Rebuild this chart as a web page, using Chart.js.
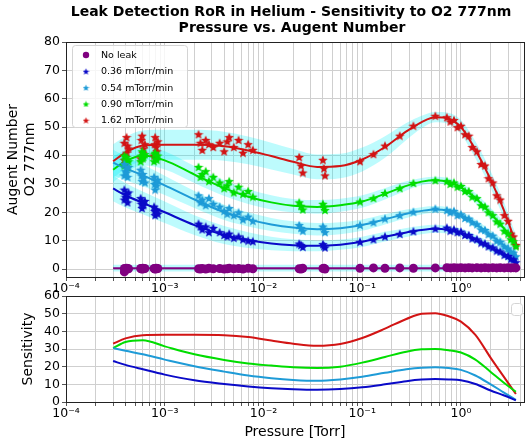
<!DOCTYPE html>
<html>
<head>
<meta charset="utf-8">
<script src="https://cdn.jsdelivr.net/npm/chart.js@4.4.1/dist/chart.umd.min.js"></script>
<style>
  body { margin: 0; background: #fff; }
  #wrap { position: relative; width: 531px; height: 443px; overflow: hidden; }
  canvas { position: absolute; left: 0; }
</style>
</head>
<body>
<div id="wrap">
  <canvas id="topChart" width="531" height="300" style="top:0"></canvas>
  <canvas id="botChart" width="531" height="160" style="top:283px"></canvas>
</div>
<script>
// ---- data ----
const seriesLabels = ['No leak', '0.36 mTorr/min', '0.54 mTorr/min', '0.90 mTorr/min', '1.62 mTorr/min'];
const seriesColors = ['#800080', '#0a0ac8', '#1e9bd7', '#00dd00', '#d21414'];

// pressures of the fitted curves [Torr]
const fitP = [3e-4, 4e-4, 6e-4, 1e-3, 2e-3, 4e-3, 7e-3, 1.2e-2, 2e-2, 3.5e-2, 6e-2, 0.1, 0.17, 0.28, 0.4, 0.55, 0.75, 1.0, 1.4, 2.0, 2.7, 3.6];

const fitNoLeak    = [0.3, 0.3, 0.3, 0.3, 0.3, 0.3, 0.3, 0.3, 0.3, 0.3, 0.3, 0.3, 0.3, 0.3, 0.3, 0.3, 0.3, 0.3, 0.3, 0.3, 0.3, 0.3];
const fitBlue      = [28.4, 26, 23.3, 20, 15.5, 12.0, 10.2, 9.0, 8.4, 8.2, 8.6, 9.6, 11.4, 12.9, 13.8, 14.2, 13.8, 12.8, 10.5, 7.7, 5.5, 2.6];
const fitLightBlue = [37.5, 35.5, 33, 29.5, 24.5, 20, 17.5, 15.7, 14.6, 14.0, 14.4, 15.5, 17.5, 19.5, 20.5, 21, 20.5, 19, 16, 12, 8.5, 4.8];
const fitGreen     = [35, 38, 40, 38.3, 33.3, 28.5, 25.5, 23.5, 22.3, 21.9, 22.5, 23.8, 26.5, 29.3, 30.8, 31.3, 30.7, 28.8, 25, 19.5, 14.5, 8.5];
const fitRed       = [38, 41, 43.5, 43.8, 43.8, 43.3, 41.8, 39.8, 37.8, 36.0, 36.3, 38.6, 43, 48.5, 51.8, 53.5, 53, 50, 42, 31.5, 21, 9];

// half widths of the cyan confidence bands
const bandNoLeak    = [1.2, 1.2, 1.2, 1.2, 1.2, 1.2, 1.2, 1.2, 1.2, 1.2, 1.2, 1.2, 1.2, 1.2, 1.2, 1.2, 1.2, 1.2, 1.2, 1.2, 1.2, 1.2];
const bandBlue      = [4.5, 4.3, 4, 3.8, 3.5, 3.2, 2.8, 2.4, 2.1, 1.9, 1.8, 1.8, 1.7, 1.6, 1.5, 1.4, 1.4, 1.5, 1.6, 1.7, 1.8, 2];
const bandLightBlue = [4.5, 4.2, 3.8, 3.4, 3, 2.7, 2.5, 2.3, 2.2, 2.2, 2.1, 2, 1.8, 1.5, 1.3, 1.2, 1.2, 1.3, 1.5, 1.6, 1.8, 2];
const bandGreen     = [4.5, 4, 3.5, 3.2, 3, 2.8, 2.6, 2.5, 2.4, 2.4, 2.3, 2.2, 2, 1.6, 1.3, 1.2, 1.3, 1.5, 1.8, 2, 2.2, 2.5];
const bandRed       = [6, 5.6, 5.3, 5.3, 5.3, 5.1, 4.9, 4.7, 4.5, 4.4, 4.3, 4.2, 3.8, 3, 2.2, 1.8, 2, 2.5, 3, 3, 3, 3];

// measured points
const ptP = [3.9e-4, 3.9e-4, 4.0e-4, 4.1e-4, 4.1e-4, 4.2e-4, 4.3e-4,
  5.7e-4, 5.8e-4, 5.9e-4, 6.0e-4, 6.1e-4, 6.3e-4,
  7.8e-4, 7.9e-4, 8.0e-4, 8.2e-4, 8.3e-4, 8.5e-4,
  2.2e-3, 2.3e-3, 2.4e-3, 2.6e-3, 2.8e-3, 3.1e-3,
  3.6e-3, 4.0e-3, 4.3e-3, 4.5e-3, 5.0e-3, 5.6e-3, 6.2e-3, 7.0e-3, 7.8e-3,
  2.3e-2, 2.5e-2, 2.4e-2,
  4.0e-2, 4.2e-2, 4.1e-2,
  0.095, 0.13, 0.17, 0.24, 0.33, 0.55,
  0.72, 0.78, 0.85, 0.92, 1.0, 1.1, 1.2, 1.3, 1.45, 1.6, 1.75, 1.9, 2.1, 2.3, 2.5, 2.75, 3.0, 3.2, 3.4, 3.6];
const ptNoLeak = [0.2, -1.0, 0.1, 0.0, 0.3, 0.2, 0.1,
  0.2, 0.1, 0.0, 0.3, 0.1, 0.2,
  0.2, 0.1, 0.0, 0.3, 0.1, 0.2,
  0.1, 0.0, 0.2, 0.0, 0.3, 0.1,
  0.2, 0.0, 0.1, 0.3, 0.1, 0.2, 0.0, 0.3, 0.1,
  0.1, 0.3, 0.0, 0.2, 0.0, 0.3, 0.3, 0.4, 0.3, 0.4, 0.3, 0.4,
  0.5, 0.4, 0.5, 0.4, 0.5, 0.4, 0.5, 0.4, 0.5, 0.4, 0.5, 0.4, 0.5, 0.4, 0.5, 0.4, 0.5, 0.4, 0.5, 0.4];
const ptBlue = [28.0, 24.5, 25.5, 26.5, 25.0, 23.5, 27.0,
  25.0, 23.0, 21.5, 23.5, 22.5, 24.0,
  22.0, 20.5, 19.0, 21.0, 20.0, 19.5,
  16.0, 15.0, 14.0, 15.0, 13.0, 14.5,
  13.0, 12.0, 11.5, 12.5, 11.0, 11.5, 10.5, 10.0, 9.8,
  9.0, 7.8, 8.5, 8.8, 7.6, 8.2, 9.6, 10.5, 11.5, 12.4, 13.3, 14.3,
  14.6, 13.5, 14.0, 13.0, 13.2, 12.0, 12.0, 10.8, 10.5, 9.3, 9.0, 8.0, 7.6, 6.5, 6.2, 5.0, 4.6, 3.6, 3.4, 2.4];
const ptLightBlue = [37.0, 33.0, 34.5, 35.5, 34.0, 32.5, 36.0,
  35.0, 33.0, 31.0, 33.5, 32.0, 30.5,
  32.5, 30.0, 28.0, 30.5, 29.5, 31.5,
  26.0, 23.5, 24.5, 22.5, 25.0, 23.0,
  22.0, 20.5, 19.5, 21.5, 19.0, 20.0, 17.5, 18.5, 17.0,
  15.5, 13.5, 14.5, 15.0, 13.0, 14.2, 15.5, 16.5, 17.8, 19.0, 20.2, 21.3,
  20.8, 20.0, 20.5, 19.0, 19.3, 18.0, 17.8, 16.5, 15.8, 14.0, 13.8, 12.3, 11.8, 10.0, 9.6, 8.0, 7.3, 6.0, 5.8, 4.5];
const ptGreen = [36.5, 40.0, 38.5, 37.5, 39.5, 36.0, 38.0,
  38.0, 40.0, 41.5, 39.0, 39.5, 40.5,
  38.0, 40.5, 41.0, 39.0, 38.5, 40.0,
  36.0, 32.5, 33.5, 34.5, 31.0, 32.5,
  30.5, 28.5, 29.5, 31.0, 27.0, 29.0, 26.5, 27.5, 25.5,
  23.5, 21.0, 22.3, 23.0, 20.8, 22.0, 23.8, 25.0, 26.8, 28.5, 30.3, 31.3,
  31.0, 30.0, 30.5, 29.0, 29.3, 27.5, 27.5, 25.5, 25.0, 22.5, 22.0, 20.0, 19.0, 16.8, 16.0, 13.5, 12.5, 10.5, 9.8, 8.0];
const ptRed = [38.5, 44.5, 40.0, 41.0, 46.5, 43.5, 42.5,
  39.0, 45.5, 47.0, 41.0, 42.5, 44.0,
  40.0, 44.0, 46.5, 43.0, 41.5, 45.0,
  47.5, 44.5, 42.0, 45.5, 44.0, 43.0,
  44.5, 41.5, 45.0, 46.5, 43.0, 45.5, 41.0, 44.0, 42.0,
  39.5, 34.0, 36.5, 38.5, 33.0, 35.5, 38.0, 40.5, 43.5, 47.0, 50.5, 54.0,
  53.5, 52.0, 52.5, 50.0, 50.5, 47.5, 47.0, 43.0, 41.5, 37.0, 36.5, 32.0, 30.5, 26.0, 24.5, 19.0, 17.0, 12.5, 11.5, 8.5];

// sensitivity curves (lower panel), on fitP
const sensBlue      = [23.2, 21, 18.5, 15.5, 12.3, 10.2, 8.8, 7.8, 7.2, 6.9, 7.3, 8.3, 10, 11.8, 12.7, 13, 12.8, 12.3, 10.2, 6.5, 3.8, 1];
const sensLightBlue = [30.5, 29, 27, 24, 20.2, 17.2, 15, 13.5, 12.5, 12, 12.8, 14.3, 16.5, 18.5, 19.4, 19.6, 19.2, 18.2, 15, 10, 5.5, 1.2];
const sensGreen     = [30.5, 34, 35, 31.5, 27, 23.8, 21.8, 20.6, 19.6, 19.2, 20, 22.3, 25.5, 28.5, 29.8, 30, 29.3, 28, 24, 17, 11, 5.8];
const sensRed       = [33, 36, 37.8, 38, 38, 37.8, 36.8, 34.8, 33, 31.8, 32.8, 36.2, 41.5, 47, 50, 50.3, 48.5, 45.5, 38, 25, 14.5, 4.5];

// axis ticks
const xMin = 1e-4, xMax = 4.35;
const decades = [-4, -3, -2, -1, 0];
const topYTicks = [0, 10, 20, 30, 40, 50, 60, 70, 80];
const botYTicks = [0, 10, 20, 30, 40, 50, 60];

// ---- helpers ----
Chart.defaults.font.family = '"DejaVu Sans", sans-serif';
Chart.defaults.color = '#000';

const pts = (xs, ys) => xs.map((x, i) => ({x: x, y: ys[i]}));
const BAND = 'rgba(0, 238, 248, 0.26)';
const GRID = '#cfcfcf';

function starImage(color, size) {
  const c = document.createElement('canvas');
  c.width = c.height = size;
  const g = c.getContext('2d');
  const r = size / 2, ri = r * 0.45;
  g.beginPath();
  for (let k = 0; k < 10; k++) {
    const a = -Math.PI / 2 + k * Math.PI / 5;
    const rr = k % 2 ? ri : r;
    g.lineTo(r + rr * Math.cos(a), r + 0.5 + rr * Math.sin(a));
  }
  g.closePath();
  g.fillStyle = color;
  g.fill();
  return c;
}

const xTicks = [];
decades.forEach(e => {
  for (let m = 1; m <= 9; m++) {
    const v = m * Math.pow(10, e);
    if (v <= xMax) xTicks.push(v);
  }
});
const sup = {'-': '\u207B', '0': '\u2070', '1': '\u00B9', '2': '\u00B2', '3': '\u00B3', '4': '\u2074'};
function decadeLabel(v) {
  const l = Math.log10(v);
  if (Math.abs(l - Math.round(l)) > 1e-9) return '';
  return '10' + String(Math.round(l)).split('').map(ch => sup[ch]).join('');
}

function xScale(showTitle) {
  return {
    type: 'logarithmic',
    min: xMin,
    max: xMax,
    afterBuildTicks: s => { s.ticks = xTicks.map(v => ({value: v})); },
    afterFit: s => { s.height = showTitle ? 41 : 23; },
    ticks: {autoSkip: false, maxRotation: 0, padding: 0, font: {size: 12.5}, callback: v => decadeLabel(v)},
    grid: {color: GRID, tickLength: 4, tickColor: '#555'},
    border: {display: false},
    title: {display: showTitle, text: 'Pressure [Torr]', font: {size: 14}, padding: {top: 0, bottom: 2}}
  };
}

function yScale(min, max, tickList, title, titlePad) {
  return {
    min: min,
    max: max,
    afterBuildTicks: s => { s.ticks = tickList.map(v => ({value: v})); },
    afterFit: s => { s.width = 66; },
    ticks: {autoSkip: false, padding: 2, font: {size: 12.5}},
    grid: {color: GRID, tickLength: 4, tickColor: '#555'},
    border: {display: false},
    title: {display: true, text: title, font: {size: 14}, padding: {top: titlePad, bottom: 0}}
  };
}

const framePlugin = {
  id: 'frame',
  afterDraw(chart) {
    const a = chart.chartArea, ctx = chart.ctx;
    ctx.save();
    ctx.strokeStyle = '#222';
    ctx.lineWidth = 1;
    ctx.strokeRect(Math.round(a.left) + 0.5, Math.round(a.top) + 0.5, Math.round(a.right - a.left), Math.round(a.bottom - a.top));
    ctx.restore();
  }
};

// ---- upper panel ----
const fits = [fitNoLeak, fitBlue, fitLightBlue, fitGreen, fitRed];
const bands = [bandNoLeak, bandBlue, bandLightBlue, bandGreen, bandRed];
const points = [ptNoLeak, ptBlue, ptLightBlue, ptGreen, ptRed];
const stars = seriesColors.map(c => starImage(c, 10));
const legendStars = seriesColors.map(c => starImage(c, 7));

const topSets = [];
fits.forEach((fit, i) => {
  const lo = fit.map((v, k) => v - bands[i][k]);
  const hi = fit.map((v, k) => v + bands[i][k]);
  topSets.push({data: pts(fitP, lo), borderWidth: 0, pointRadius: 0, tension: 0.4, cubicInterpolationMode: 'monotone', fill: false, order: 4});
  topSets.push({data: pts(fitP, hi), borderWidth: 0, pointRadius: 0, tension: 0.4, cubicInterpolationMode: 'monotone', fill: '-1', backgroundColor: BAND, order: 4});
});
fits.forEach((fit, i) => {
  topSets.push({data: pts(fitP, fit), borderColor: seriesColors[i], borderWidth: 2, pointRadius: 0, tension: 0.4, cubicInterpolationMode: 'monotone', fill: false, order: 3});
});
points.forEach((ys, i) => {
  topSets.push({
    label: seriesLabels[i],
    data: pts(ptP, ys),
    showLine: false,
    pointStyle: i === 0 ? 'circle' : stars[i],
    pointRadius: i === 0 ? 4.5 : 5,
    pointBackgroundColor: seriesColors[i],
    pointBorderWidth: 0,
    order: 2
  });
});

const topDecor = {
  id: 'topDecor',
  afterDraw(chart) {
    const ctx = chart.ctx;
    ctx.save();
    // title
    ctx.fillStyle = '#000';
    ctx.textAlign = 'center';
    ctx.textBaseline = 'middle';
    ctx.font = 'bold 14px "DejaVu Sans"';
    ctx.fillText('Leak Detection RoR in Helium - Sensitivity to O2 777nm', 291, 12.5);
    ctx.fillText('Pressure vs. Augent Number', 292, 28);
    // legend
    ctx.beginPath();
    ctx.roundRect(72.5, 45.5, 115, 82, 3);
    ctx.fillStyle = 'rgba(255,255,255,0.8)';
    ctx.fill();
    ctx.strokeStyle = '#d4d4d4';
    ctx.stroke();
    ctx.font = '9.5px "DejaVu Sans"';
    ctx.textAlign = 'left';
    seriesLabels.forEach((lab, i) => {
      const y = 55 + i * 16.3;
      if (i === 0) {
        ctx.beginPath();
        ctx.arc(86, y, 3.2, 0, Math.PI * 2);
        ctx.fillStyle = seriesColors[0];
        ctx.fill();
      } else {
        ctx.drawImage(legendStars[i], 82.5, y - 3.5);
      }
      ctx.fillStyle = '#000';
      ctx.fillText(lab, 101, y + 0.5);
    });
    ctx.restore();
  }
};

new Chart(document.getElementById('topChart'), {
  type: 'line',
  data: {datasets: topSets},
  options: {
    responsive: false,
    animation: false,
    layout: {padding: {top: 42, right: 7, left: 0, bottom: 0}},
    plugins: {legend: {display: false}, tooltip: {enabled: false}},
    scales: {
      x: xScale(false),
      y: yScale(-2.8, 80, topYTicks, ['Augent Number', 'O2 777nm'], 5)
    }
  },
  plugins: [framePlugin, topDecor]
});

// ---- lower panel ----
const sens = [sensBlue, sensLightBlue, sensGreen, sensRed];
const botSets = sens.map((s, i) => ({
  data: pts(fitP, s),
  borderColor: seriesColors[i + 1],
  borderWidth: 2,
  pointRadius: 0,
  tension: 0.4,
  cubicInterpolationMode: 'monotone',
  fill: false
}));

const botDecor = {
  id: 'botDecor',
  afterDraw(chart) {
    const ctx = chart.ctx;
    ctx.save();
    ctx.beginPath();
    ctx.roundRect(511.5, 20.5, 11, 12, 3);
    ctx.fillStyle = 'rgba(255,255,255,0.8)';
    ctx.fill();
    ctx.strokeStyle = '#d4d4d4';
    ctx.stroke();
    ctx.restore();
  }
};

new Chart(document.getElementById('botChart'), {
  type: 'line',
  data: {datasets: botSets},
  options: {
    responsive: false,
    animation: false,
    layout: {padding: {top: 13, right: 7, left: 0, bottom: 0}},
    plugins: {legend: {display: false}, tooltip: {enabled: false}},
    scales: {
      x: xScale(true),
      y: yScale(0, 60, botYTicks, 'Sensitivity', 20)
    }
  },
  plugins: [framePlugin, botDecor]
});
</script>
</body>
</html>
